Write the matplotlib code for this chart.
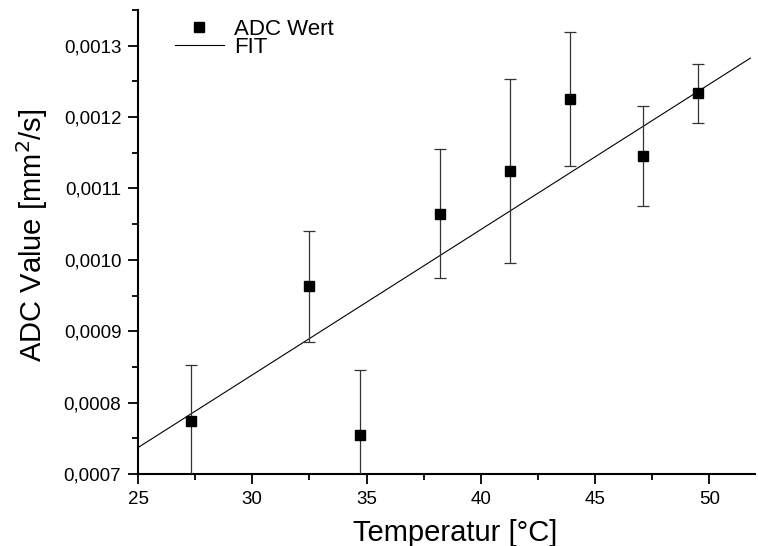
import matplotlib
matplotlib.use("Agg")
import matplotlib.pyplot as plt
from matplotlib.ticker import MultipleLocator, FuncFormatter
from matplotlib.lines import Line2D
import numpy as np

plt.rcParams['font.family'] = ['Liberation Sans', 'DejaVu Sans']

# Measured ADC values vs. temperature
temperature = [27.3, 32.5, 34.7, 38.2, 41.3, 43.9, 47.1, 49.5]
adc_value = [0.000774, 0.000963, 0.000754, 0.0010645, 0.001125, 0.0012255, 0.001145, 0.0012335]
adc_error = [0.000079, 0.000078, 0.000091, 0.0000905, 0.000129, 0.0000935, 0.000070, 0.0000415]

# Linear fit parameters
fit_slope = 0.00002036
fit_intercept = 0.000228
fit_range = [25.0, 51.8]

fig = plt.figure(figsize=(7.58, 5.46), dpi=100)
ax = fig.add_axes([138 / 758, 1 - 474 / 546, (755 - 138) / 758, (474 - 10) / 546])

fit_x = np.array(fit_range)
ax.plot(fit_x, fit_intercept + fit_slope * fit_x, color='black', lw=0.8, zorder=2)
ax.errorbar(temperature, adc_value, yerr=adc_error, fmt='s', color='black',
            ecolor='#333333', elinewidth=0.9, capsize=4, capthick=0.9,
            markersize=7.5, zorder=3)

ax.set_xlim(25, 52)
ax.set_ylim(0.0007, 0.00135)

ax.xaxis.set_major_locator(MultipleLocator(5))
ax.xaxis.set_minor_locator(MultipleLocator(2.5))
ax.yaxis.set_major_locator(MultipleLocator(0.0001))
ax.yaxis.set_minor_locator(MultipleLocator(0.00005))
ax.yaxis.set_major_formatter(FuncFormatter(lambda v, p: f"{v:.4f}".replace('.', ',')))

for side in ('top', 'right'):
    ax.spines[side].set_visible(False)
for side in ('left', 'bottom'):
    ax.spines[side].set_linewidth(1.5)

ax.tick_params(which='major', direction='out', length=7, width=1.3, labelsize=13.5, pad=5)
ax.tick_params(which='minor', direction='out', length=4, width=1.3)

ax.set_xlabel('Temperatur [°C]', fontsize=21)
ax.xaxis.set_label_coords((455 - 138) / 617, -(541 - 474) / 464, transform=ax.transAxes)
ax.xaxis.label.set_va('baseline')
ax.set_ylabel('ADC Value [mm$^2$/s]', fontsize=21)
ax.yaxis.set_label_coords(-(138 - 50) / 617, (474 - 235) / 464, transform=ax.transAxes)

legend_handles = [
    Line2D([], [], linestyle='none', marker='s', color='black', markersize=7.5),
    Line2D([], [], color='black', lw=0.8),
]
ax.legend(legend_handles, ['ADC Wert', 'FIT'], loc='upper left', bbox_to_anchor=(0.06, 0.981),
          frameon=False, fontsize=16, handlelength=2.2, handletextpad=0.45,
          labelspacing=-0.12, borderpad=0, borderaxespad=0)

fig.savefig('out.png', dpi=100)
